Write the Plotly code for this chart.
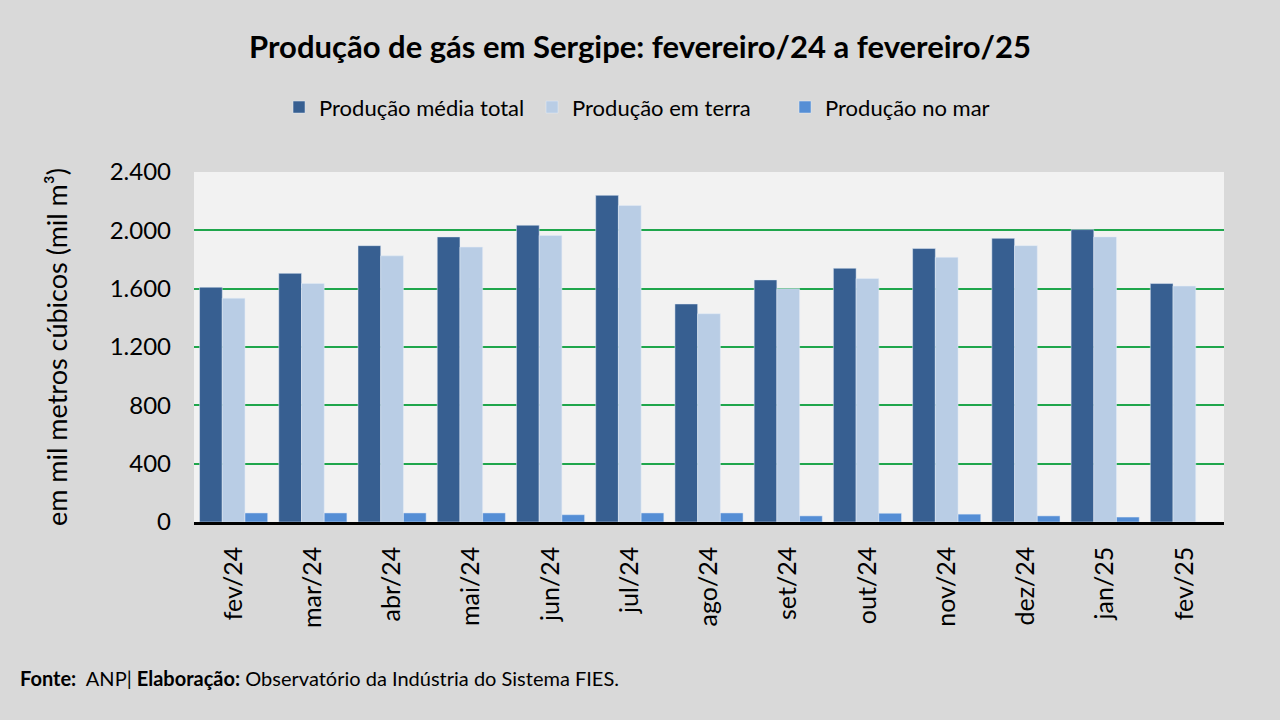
import plotly.graph_objects as go

# meses (fev/24 a fev/25)
meses = ["fev/24", "mar/24", "abr/24", "mai/24", "jun/24", "jul/24", "ago/24",
         "set/24", "out/24", "nov/24", "dez/24", "jan/25", "fev/25"]

# mil m³
total = [1610, 1705, 1895, 1955, 2035, 2240, 1495, 1660, 1740, 1875, 1945, 2005, 1635]
terra = [1535, 1635, 1825, 1885, 1965, 2170, 1428, 1600, 1670, 1815, 1895, 1955, 1618]
mar = [62, 62, 62, 62, 50, 62, 62, 42, 60, 54, 42, 34, 0]

FONTE = "Lato, Open Sans, sans-serif"

fig = go.Figure()
fig.add_trace(go.Bar(x=meses, y=total, name="Produção média total", marker_color="#375F91"))
fig.add_trace(go.Bar(x=meses, y=terra, name="Produção em terra", marker_color="#B9CDE5"))
fig.add_trace(go.Bar(x=meses, y=mar, name="Produção no mar", marker_color="#558ED5"))

fig.update_layout(
    width=1280, height=720,
    paper_bgcolor="#D9D9D9", plot_bgcolor="#F2F2F2",
    font=dict(family=FONTE, color="#000000"),
    separators=",.",
    barmode="group", bargap=0.14, bargroupgap=0,
    margin=dict(l=194, r=56, t=172, b=198),
    title=dict(text="<b>Produção de gás em Sergipe: fevereiro/24 a fevereiro/25</b>",
               x=0.5, xanchor="center", y=0.935, yanchor="middle",
               font=dict(size=31, family=FONTE)),
    legend=dict(orientation="h", x=0.451, xanchor="center", y=1.185, yanchor="middle",
                font=dict(size=22), bgcolor="rgba(0,0,0,0)",
                entrywidth=208, traceorder="normal"),
    showlegend=True,
)

fig.update_yaxes(range=[0, 2400], dtick=400, tickformat=",d",
                 showgrid=True, gridcolor="#1FA64C", gridwidth=2,
                 zeroline=False, showline=False,
                 ticks="", ticklabelstandoff=22,
                 tickfont=dict(size=24),
                 title=dict(text="em mil metros cúbicos (mil m³)", font=dict(size=27), standoff=34))
fig.update_xaxes(tickangle=-90, tickfont=dict(size=25),
                 showline=True, linecolor="#000000", linewidth=2.5,
                 showgrid=False, ticks="", ticklabelstandoff=12)

fig.add_annotation(
    text="<b>Fonte:</b>  ANP| <b>Elaboração:</b> Observatório da Indústria do Sistema FIES.",
    xref="paper", yref="paper", x=-0.171, y=-0.445, xanchor="left", yanchor="middle",
    showarrow=False, font=dict(size=20, family=FONTE),
)

# sem margem no body para a figura ficar colada ao canto
fig.write_html("out.html", config={"displayModeBar": False},
               post_script="document.body.style.margin='0';")
